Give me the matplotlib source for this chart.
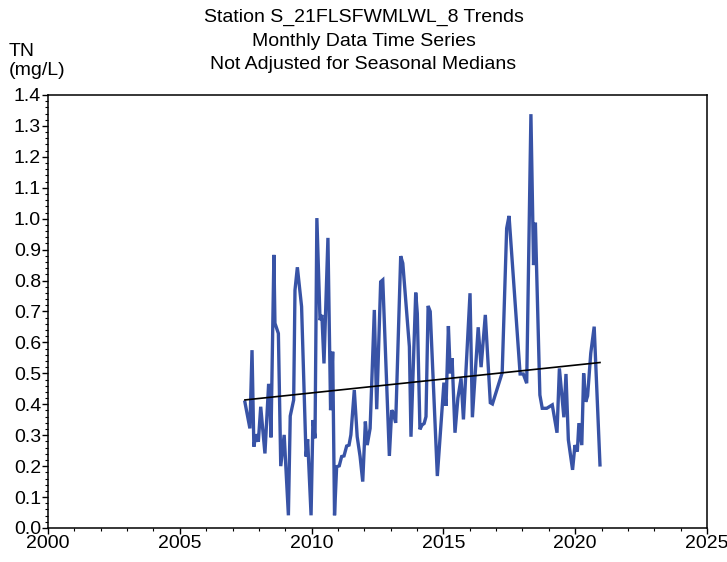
import matplotlib.pyplot as plt
from matplotlib.ticker import MultipleLocator

plt.rcParams['font.family'] = ['Liberation Sans', 'DejaVu Sans']

# sample dates (decimal year) and TN values
years = [2007.47, 2007.66, 2007.74, 2007.81, 2007.89, 2007.98, 2008.07, 2008.23,
         2008.37, 2008.41, 2008.46, 2008.57, 2008.61, 2008.74, 2008.83, 2008.96,
         2009.12, 2009.19, 2009.32, 2009.37, 2009.46, 2009.62, 2009.79, 2009.85,
         2009.98, 2010.05, 2010.13, 2010.20, 2010.32, 2010.39, 2010.47, 2010.62,
         2010.72, 2010.80, 2010.87, 2010.95, 2011.05, 2011.14, 2011.23, 2011.33,
         2011.42, 2011.49, 2011.62, 2011.73, 2011.84, 2011.94, 2012.04, 2012.11,
         2012.22, 2012.38, 2012.47, 2012.62, 2012.70, 2012.95, 2013.04, 2013.10,
         2013.19, 2013.38, 2013.46, 2013.71, 2013.77, 2013.95, 2014.01, 2014.11,
         2014.19, 2014.27, 2014.34, 2014.42, 2014.50, 2014.77, 2015.02, 2015.10,
         2015.19, 2015.26, 2015.33, 2015.44, 2015.55, 2015.67, 2015.76, 2016.01,
         2016.10, 2016.32, 2016.43, 2016.59, 2016.78, 2016.86, 2017.23, 2017.40,
         2017.49, 2017.91, 2018.03, 2018.16, 2018.32, 2018.42, 2018.49, 2018.66,
         2018.75, 2018.92, 2019.13, 2019.31, 2019.40, 2019.57, 2019.65, 2019.74,
         2019.90, 2019.99, 2020.08, 2020.14, 2020.25, 2020.32, 2020.40, 2020.47,
         2020.59, 2020.72, 2020.94]
tn = [0.407, 0.322, 0.575, 0.263, 0.303, 0.279, 0.392, 0.241,
      0.466, 0.425, 0.293, 0.883, 0.662, 0.629, 0.200, 0.301,
      0.041, 0.362, 0.414, 0.769, 0.843, 0.716, 0.231, 0.287,
      0.041, 0.349, 0.290, 1.002, 0.672, 0.689, 0.532, 0.938,
      0.381, 0.570, 0.041, 0.198, 0.201, 0.231, 0.233, 0.265,
      0.268, 0.301, 0.446, 0.295, 0.231, 0.150, 0.344, 0.268,
      0.322, 0.705, 0.384, 0.796, 0.802, 0.233, 0.381, 0.371,
      0.340, 0.879, 0.856, 0.586, 0.295, 0.761, 0.694, 0.319,
      0.333, 0.338, 0.360, 0.718, 0.700, 0.168, 0.470, 0.395,
      0.653, 0.500, 0.549, 0.308, 0.420, 0.484, 0.351, 0.759,
      0.358, 0.649, 0.520, 0.689, 0.405, 0.401, 0.502, 0.969,
      1.009, 0.498, 0.498, 0.468, 1.338, 0.850, 0.987, 0.430,
      0.387, 0.387, 0.398, 0.308, 0.516, 0.358, 0.498, 0.285,
      0.188, 0.268, 0.247, 0.339, 0.268, 0.500, 0.408, 0.427,
      0.565, 0.651, 0.204]

# trend line end points
trend_x = [2007.47, 2020.94]
trend_y = [0.414, 0.535]

fig = plt.figure(figsize=(7.27, 5.62), dpi=100)
ax = fig.add_axes([0.066, 0.0605, 0.9065, 0.7705])

ax.plot(years, tn, color='#3853a6', lw=2.4, solid_joinstyle='miter')
ax.plot(trend_x, trend_y, color='black', lw=1.2)

ax.set_xlim(2000, 2025)
ax.set_ylim(0, 1.4)
ax.xaxis.set_major_locator(MultipleLocator(5))
ax.xaxis.set_minor_locator(MultipleLocator(1))
ax.yaxis.set_major_locator(MultipleLocator(0.1))
ax.yaxis.set_minor_locator(MultipleLocator(0.02))
ax.yaxis.set_major_formatter(plt.FormatStrFormatter('%.1f'))
ax.tick_params(which='major', length=4, width=1, labelsize=14, pad=1)
ax.tick_params(which='minor', length=2, width=0.8)
for s in ax.spines.values():
    s.set_linewidth(1.1)

fig.text(0.5, 0.984, 'Station S_21FLSFWMLWL_8 Trends\nMonthly Data Time Series\nNot Adjusted for Seasonal Medians',
         ha='center', va='top', fontsize=14, linespacing=1.5)
fig.text(0.012, 0.86, 'TN\n(mg/L)', ha='left', va='bottom', fontsize=14, linespacing=1.1)

fig.savefig('out.png', dpi=100)
